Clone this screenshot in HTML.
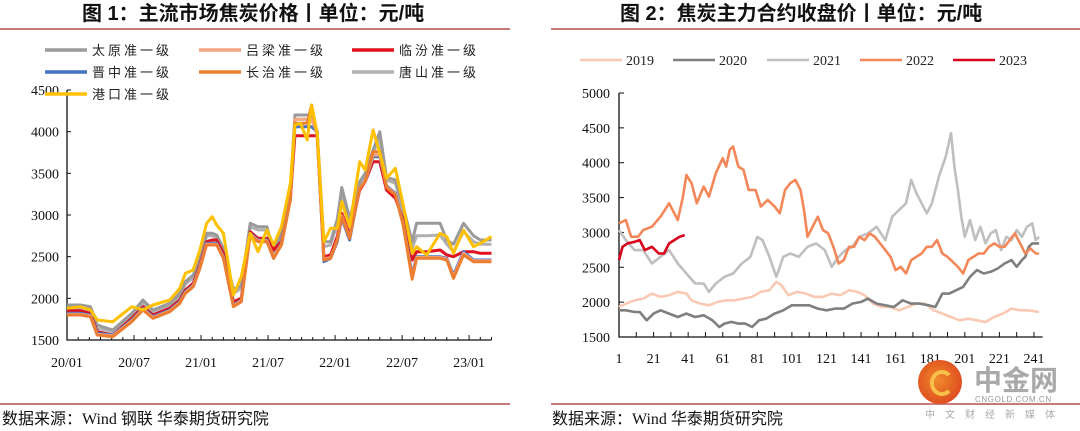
<!DOCTYPE html>
<html><head><meta charset="utf-8">
<style>
html,body{margin:0;padding:0;background:#fff;}
body{width:1080px;height:431px;position:relative;overflow:hidden;font-family:"Liberation Serif","Noto Serif CJK SC",serif;}
.title{position:absolute;top:2px;font-family:"Liberation Sans","Noto Sans CJK SC",sans-serif;font-weight:bold;font-size:20px;line-height:24px;color:#111;white-space:nowrap;}
.rule{position:absolute;height:2px;background:#c97a7a;}
.src{position:absolute;top:410px;font-size:16px;line-height:20px;color:#111;font-family:"Liberation Serif","Noto Sans CJK SC",serif;white-space:nowrap;}
svg{position:absolute;left:0;top:0;}
</style></head><body>
<div class="title" style="left:82px;">图 1：主流市场焦炭价格丨单位：元/吨</div>
<div class="title" style="left:620px;">图 2：焦炭主力合约收盘价丨单位：元/吨</div>
<div class="rule" style="left:0;top:28px;width:510px;"></div>
<div class="rule" style="left:551px;top:28px;width:529px;"></div>
<div class="rule" style="left:0;top:403px;width:510px;"></div>
<div class="rule" style="left:551px;top:403px;width:529px;"></div>
<div class="src" style="left:2px;">数据来源：Wind 钢联 华泰期货研究院</div>
<div class="src" style="left:552px;">数据来源：Wind 华泰期货研究院</div>

<svg id="c1" width="540" height="431"></svg>
<svg id="c2" width="1080" height="431"></svg>

<div style="position:absolute;left:918px;top:360px;width:162px;height:71px;">
  <div style="position:absolute;left:0;top:0;width:44px;height:44px;border-radius:50%;background:radial-gradient(circle at 45% 45%,#f08a2a,#d8361c);"></div>
  <div style="position:absolute;left:12px;top:10px;width:16px;height:18px;border-radius:50%;border:4px solid #f7c04a;border-right-color:transparent;"></div>
  <div style="position:absolute;left:56px;top:2px;font-family:'Noto Sans CJK SC',sans-serif;font-weight:bold;font-size:28px;color:#a9a9a9;line-height:34px;">中金网</div>
  <div style="position:absolute;left:57px;top:35px;font-family:'Liberation Sans',sans-serif;font-size:8px;color:#999;letter-spacing:0.6px;">CNGOLD.COM.CN</div>
  <div style="position:absolute;left:7px;top:46px;font-family:'Noto Sans CJK SC',sans-serif;font-size:10px;color:#aaa;letter-spacing:10px;">中文财经新媒体</div>
</div>

<script>
// ===== Chart 1 data =====
const c1Months = [0,1.2,2.1,2.7,4.1,5.8,6.8,7.7,9.2,10.1,10.6,11.3,11.9,12.5,13,13.4,14,14.9,15.6,16.4,17.1,17.9,18.5,19.2,20,20.4,20.9,21.5,21.9,22.4,23,23.6,24.2,24.6,25.3,26.2,26.7,27.4,28,28.6,29.4,30.1,30.9,31.3,32.2,33.4,34,34.6,35.5,36.4,37,38];
const c1Taiyuan = [1920,1920,1900,1680,1620,1820,1980,1860,1940,2060,2200,2280,2480,2780,2780,2760,2600,2110,2150,2900,2860,2860,2560,2780,3300,4200,4200,4200,4200,4000,2680,2680,2950,3330,2960,3400,3500,3780,4000,3450,3420,3100,2680,2900,2900,2900,2700,2650,2900,2750,2700,2700];
const c1Lvliang = [1810,1810,1790,1570,1550,1730,1870,1770,1850,1950,2070,2150,2370,2650,2650,2650,2490,1910,1970,2770,2690,2690,2500,2650,3190,4150,4150,4150,4150,3980,2470,2490,2700,2990,2730,3330,3400,3720,3720,3340,3250,2890,2250,2490,2490,2490,2470,2260,2540,2450,2450,2450];
const c1Linfen = [1850,1850,1820,1600,1560,1760,1900,1800,1880,1980,2100,2180,2400,2680,2700,2700,2540,1960,2000,2800,2720,2720,2580,2680,3200,3950,3950,3950,3950,3950,2500,2520,2740,3020,2760,3300,3400,3640,3640,3300,3200,2950,2460,2560,2560,2580,2520,2500,2560,2560,2540,2540];
const c1Jinzhong = [1820,1820,1800,1580,1560,1740,1880,1780,1860,1960,2080,2160,2380,2660,2660,2660,2500,1920,1980,2780,2700,2700,2480,2660,3200,4060,4060,4060,4060,4000,2440,2480,2680,2960,2700,3330,3400,3700,3700,3350,3260,2900,2280,2500,2500,2500,2480,2280,2560,2460,2460,2460];
const c1Changzhi = [1800,1800,1780,1560,1540,1720,1860,1760,1840,1940,2060,2140,2360,2640,2640,2640,2480,1900,1960,2760,2680,2680,2480,2640,3180,4100,4100,4100,4320,3950,2460,2480,2700,2980,2720,3320,3400,3760,3760,3330,3240,2880,2230,2480,2480,2480,2460,2240,2520,2440,2440,2440];
const c1Tangshan = [1880,1880,1860,1640,1600,1790,1950,1830,1910,2030,2170,2250,2450,2750,2750,2730,2570,2060,2120,2860,2820,2820,2540,2740,3260,4150,4150,4150,4150,3980,2620,2640,2900,3240,2900,3380,3460,3760,3900,3420,3380,3050,2600,2750,2750,2760,2650,2560,2800,2680,2650,2650];
const c1Gangkou = [1880,1900,1860,1740,1720,1900,1860,1920,1980,2120,2300,2340,2580,2900,2980,2880,2780,2040,2260,2780,2560,2820,2640,2860,3380,4080,4100,3900,4320,3980,2680,2840,2840,3160,2860,3640,3540,4020,3740,3440,3560,3120,2540,2620,2520,2780,2740,2540,2820,2620,2660,2740];
const c1YTicks = [1500,2000,2500,3000,3500,4000,4500];
const c1XLabels = ["20/01","20/07","21/01","21/07","22/01","22/07","23/01"];
const c1Names = ["太原准一级","吕梁准一级","临汾准一级","晋中准一级","长治准一级","唐山准一级","港口准一级"];

// ===== Chart 2 data =====
const d2019 = [1,5,10,15,20,25,30,35,40,43,48,53,58,63,68,73,78,83,88,92,95,99,104,109,114,119,124,129,134,139,143,148,153,158,163,168,173,178,183,188,193,198,203,208,213,218,223,228,233,238,244];
const v2019 = [1931,1979,2027,2051,2123,2075,2099,2147,2123,2027,1979,1955,2003,2027,2027,2051,2075,2147,2171,2291,2243,2099,2147,2123,2075,2075,2123,2099,2171,2147,2099,1979,1931,1931,1883,1931,1979,1979,1883,1835,1787,1739,1763,1739,1715,1787,1835,1907,1883,1883,1859];
const d2020 = [1,5,10,13,17,21,25,30,35,40,45,50,55,59,62,66,70,74,78,82,86,91,96,101,106,111,116,121,126,131,136,141,145,150,155,160,165,170,175,180,184,188,192,196,200,204,208,212,216,220,224,228,231,234,236,238,240,244];
const v2020 = [1883,1883,1859,1859,1739,1835,1883,1835,1787,1835,1787,1811,1739,1643,1692,1716,1692,1692,1643,1739,1763,1835,1883,1955,1955,1955,1907,1883,1907,1907,1979,2003,2051,1979,1955,1931,2027,1979,1979,1955,1931,2123,2123,2171,2219,2363,2459,2411,2435,2483,2555,2603,2507,2603,2650,2794,2842,2842];
const d2021 = [1,5,10,15,20,25,30,35,40,45,50,53,57,62,67,72,77,81,84,88,92,96,100,105,110,115,120,124,128,132,136,140,145,150,155,159,163,167,170,173,176,179,182,186,190,193,195,197,199,201,204,207,210,213,216,219,222,225,228,231,234,237,240,242,244];
const v2021 = [3034,2890,2746,2746,2555,2650,2746,2555,2411,2267,2267,2147,2267,2363,2411,2555,2650,2938,2890,2650,2363,2650,2698,2650,2794,2842,2746,2507,2650,2746,2794,2938,2986,3082,2890,3226,3322,3418,3753,3562,3418,3274,3418,3801,4089,4425,3945,3609,3226,2938,3178,2890,3082,2842,2986,3034,2746,2938,2890,3034,2938,3082,3130,2890,2938];
const d2022 = [1,5,8,12,15,20,25,30,35,38,40,43,46,50,53,57,61,63,65,67,70,73,76,80,83,87,91,94,97,100,103,106,108,110,113,116,119,122,125,128,131,134,137,140,143,146,149,152,155,158,161,164,167,170,173,176,179,182,185,188,191,194,197,200,203,206,209,212,215,218,221,224,227,230,233,236,239,242,244];
const v2022 = [3130,3178,2938,2938,3034,3082,3226,3418,3178,3514,3825,3705,3418,3657,3514,3849,4065,3945,4185,4233,3945,3897,3609,3609,3370,3466,3370,3274,3609,3705,3753,3609,3322,2938,3082,3226,3034,2986,2794,2555,2603,2794,2794,2938,2890,2986,2938,2842,2746,2650,2459,2507,2411,2603,2650,2698,2794,2794,2890,2698,2650,2579,2507,2411,2603,2650,2698,2698,2794,2842,2794,2794,2890,2986,2842,2698,2770,2698,2698];
const d2023 = [1,3,6,10,13,16,20,24,27,30,33,36,39];
const v2023 = [2602,2794,2842,2866,2890,2746,2794,2698,2698,2842,2890,2938,2962];
const c2YTicks = [1500,2000,2500,3000,3500,4000,4500,5000];
const c2XLabels = [1,21,41,61,81,101,121,141,161,181,201,221,241];
const c2Years = ["2019","2020","2021","2022","2023"];

const NS = "http://www.w3.org/2000/svg";
function mk(svg, tag, attrs, txt){
  const e = document.createElementNS(NS, tag);
  for (const k in attrs) e.setAttribute(k, attrs[k]);
  if (txt !== undefined) e.textContent = txt;
  svg.appendChild(e);
  return e;
}

// ---- Chart 1 ----
(function(){
  const svg = document.getElementById('c1');
  const x0 = 67, mw = 11.17, y0 = 340, yTop = 90;
  const X = m => x0 + m * mw;
  const Y = v => y0 - (v - 1500) / 3000 * (y0 - yTop);
  const axis = mk(svg,'path',{d:`M${x0} ${Y(4500)}V${y0}H${X(38)}`,stroke:'#111','stroke-width':1.3,fill:'none'});
  
  
  c1YTicks.forEach(v=>{
    const t = mk(svg,'line',{x1:x0,x2:x0+4,y1:Y(v),y2:Y(v),stroke:'#111','stroke-width':1});
    
    
    const l = mk(svg,'text',{x:x0-8,y:Y(v)+5,'text-anchor':'end','font-size':14,fill:'#111','font-family':'Liberation Serif, serif'},String(v));
    
    
  });
  for(let m=1;m<=38;m++){
    const t = mk(svg,'line',{x1:X(m),x2:X(m),y1:y0,y2:y0-(m%6===0?5:3),stroke:'#111','stroke-width':1});
    
    
  }
  c1XLabels.forEach((s,i)=>{
    const l = mk(svg,'text',{x:X(i*6),y:367,'text-anchor':'middle','font-size':14,fill:'#111','font-family':'Liberation Serif, serif'},s);
    
    
  });
  const series = [
    [c1Taiyuan,'#9a9a9a','taiyuan'],[c1Lvliang,'#f4a582','lvliang'],[c1Linfen,'#e0101f','linfen'],
    [c1Jinzhong,'#4472c4','jinzhong'],[c1Changzhi,'#ed7d31','changzhi'],[c1Tangshan,'#b0b0b0','tangshan'],[c1Gangkou,'#ffc000','gangkou']];
  const order = [5,0,2,3,1,4,6];
  order.forEach(i=>{
    const [vals,col,nm] = series[i];
    const d = vals.map((v,k)=>(k?'L':'M')+X(c1Months[k]).toFixed(1)+' '+Y(v).toFixed(1)).join('');
    const p = mk(svg,'path',{d:d,stroke:col,'stroke-width':3,fill:'none','stroke-linejoin':'round'});
    
    
  });
  const lx = [45,199,352], ly = [50,72,94];
  series.forEach((s,i)=>{
    const cx = lx[i%3], cy = ly[Math.floor(i/3)];
    const g = mk(svg,'g',{});
    
    
    mk(g,'line',{x1:cx,x2:cx+42,y1:cy,y2:cy,stroke:s[1],'stroke-width':3.5});
    mk(g,'text',{x:cx+47,y:cy+5,'font-size':13,'letter-spacing':3,fill:'#222','font-family':'Noto Sans CJK SC, sans-serif'},c1Names[i]);
  });
})();

// ---- Chart 2 ----
(function(){
  const svg = document.getElementById('c2');
  const x0 = 619, dw = 1.729, y0 = 337, yTop = 93;
  const X = d => x0 + (d - 1) * dw;
  const Y = v => y0 - (v - 1500) / 3500 * (y0 - yTop);
  const axis = mk(svg,'path',{d:`M${x0} ${yTop}V${y0}H${X(246)}`,stroke:'#111','stroke-width':1.3,fill:'none'});
  
  
  c2YTicks.forEach(v=>{
    const t = mk(svg,'line',{x1:x0,x2:x0+5,y1:Y(v),y2:Y(v),stroke:'#111','stroke-width':1});
    
    
    const l = mk(svg,'text',{x:x0-9,y:Y(v)+5,'text-anchor':'end','font-size':14,fill:'#111','font-family':'Liberation Serif, serif'},String(v));
    
    
  });
  for(let d=11; d<=241; d+=10){
    const t = mk(svg,'line',{x1:X(d),x2:X(d),y1:y0,y2:y0-5,stroke:'#111','stroke-width':1});
    
    
  }
  c2XLabels.forEach(d=>{
    const l = mk(svg,'text',{x:X(d),y:363,'text-anchor':'middle','font-size':14,fill:'#111','font-family':'Liberation Serif, serif'},String(d));
    
    
  });
  const series = [
    [d2019,v2019,'#f9c9b3','2019'],[d2020,v2020,'#7f7f7f','2020'],[d2021,v2021,'#bfbfbf','2021'],
    [d2022,v2022,'#f4875a','2022'],[d2023,v2023,'#d9001b','2023']];
  series.forEach(s=>{
    const d = s[1].map((v,k)=>(k?'L':'M')+X(s[0][k]).toFixed(1)+' '+Y(v).toFixed(1)).join('');
    const p = mk(svg,'path',{d:d,stroke:s[2],'stroke-width':2.6,fill:'none','stroke-linejoin':'round'});
    
    
  });
  const lx = [580,673,767,860,953];
  series.forEach((s,i)=>{
    const g = mk(svg,'g',{});
    
    
    mk(g,'line',{x1:lx[i],x2:lx[i]+42,y1:60,y2:60,stroke:s[2],'stroke-width':2.6});
    mk(g,'text',{x:lx[i]+46,y:65,'font-size':14,fill:'#222','font-family':'Liberation Serif, serif'},c2Years[i]);
  });
})();
</script>
</body></html>
